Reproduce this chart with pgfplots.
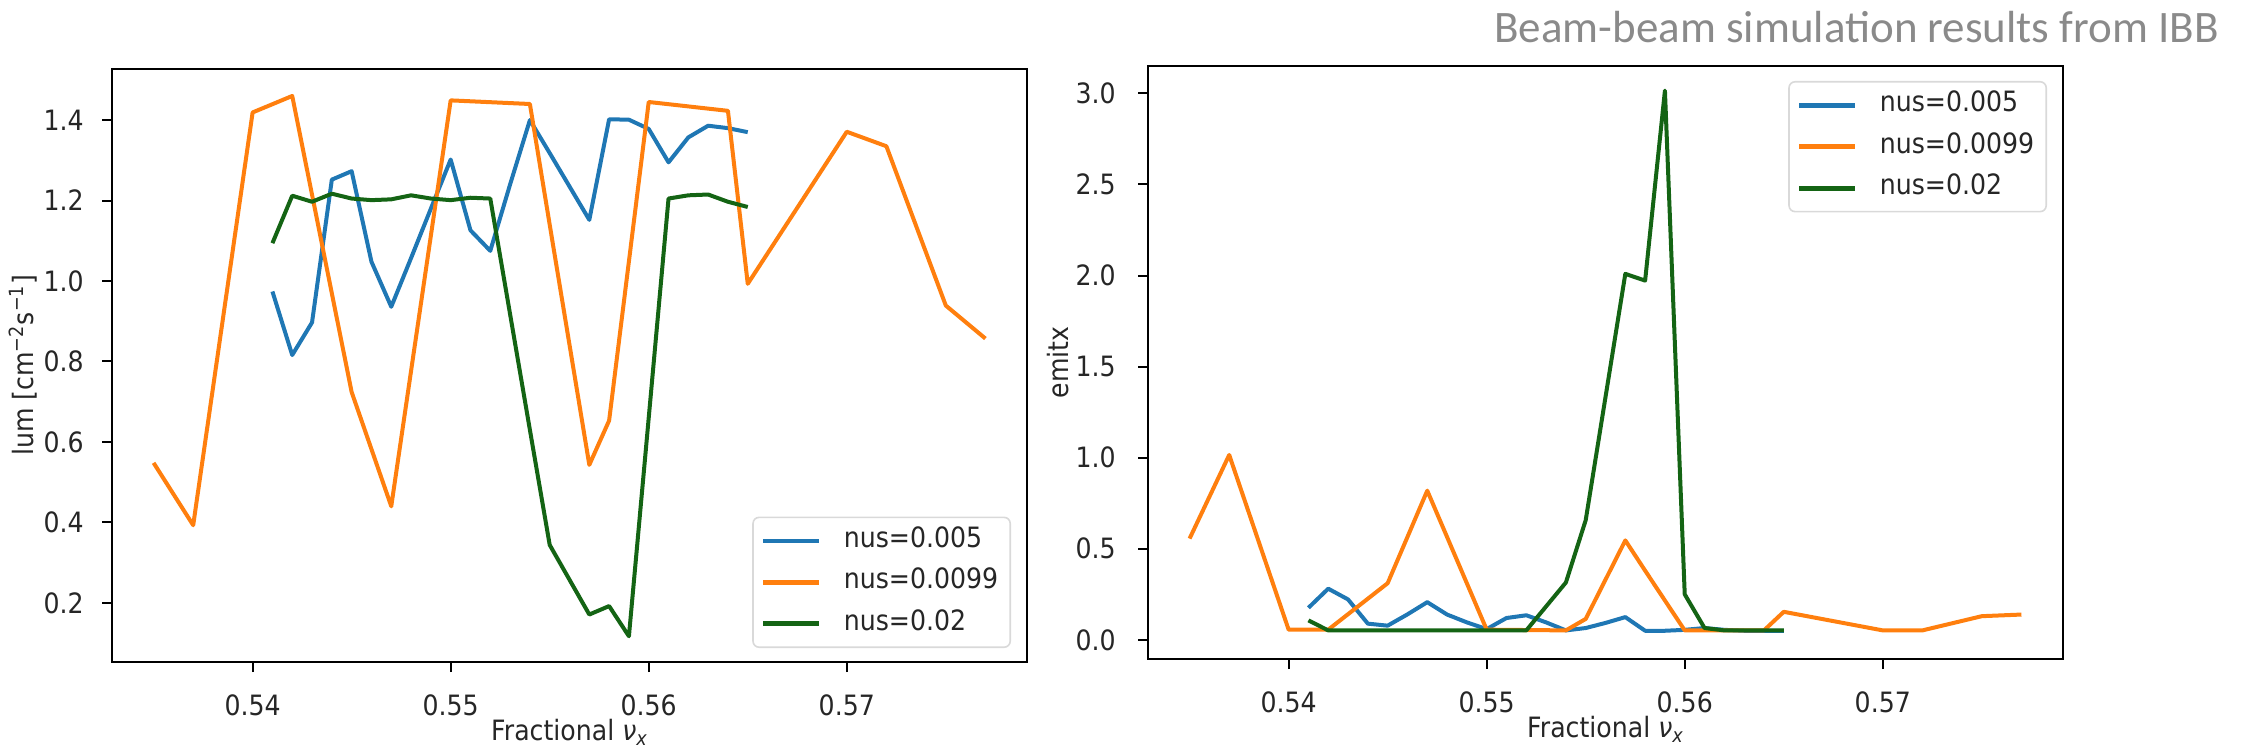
\documentclass[border=0pt]{standalone}
\usepackage{fontspec}
\setmainfont{DejaVu Sans}[FakeStretch=0.9]
\newfontfamily\titlefont{Carlito}
\usepackage{pgfplots}
\pgfplotsset{compat=1.18}
\definecolor{tabblue}{HTML}{1F77B4}
\definecolor{taborange}{HTML}{FF7F0E}
\definecolor{dgreen}{HTML}{146414}
\definecolor{titlegray}{HTML}{8A8A8A}

\pgfplotsset{
  panel/.style={
    scale only axis, width=457.5pt, height=296.5pt,
    xmin=0.5329, xmax=0.5791,
    xtick={0.54,0.55,0.56,0.57}, xticklabels={0.54,0.55,0.56,0.57},
    tick align=outside, xtick pos=bottom, ytick pos=left,
    major tick length=5pt,
    every tick/.style={black, line width=1pt},
    axis line style={black, line width=1.2pt},
    tick label style={text=black!85},
    xticklabel style={anchor=base, inner sep=0pt, yshift=-21.5pt},
    label style={text=black!85},
    xlabel={Fractional {\itshape ν}\textsubscript{\itshape x}},
    xlabel style={at={(axis description cs:0.5,-0.1332)}, anchor=base, inner sep=0pt},
    every axis plot/.append style={line width=2pt, line join=round},
    legend cell align=left,
    legend image code/.code={\draw[#1, line width=2.4pt] (0pt,0pt) -- (28pt,0pt);},
    legend style={draw=black!15, line width=0.8pt, rounded corners=3pt, fill=white,
      inner xsep=4pt, inner ysep=4.5pt, row sep=6.2pt,
      nodes={inner xsep=2pt, inner ysep=1pt, text height=9.5pt, text depth=3pt, text=black!85},
      /tikz/every odd column/.append style={column sep=9pt}},
  }
}

\begin{document}
\begin{tikzpicture}[font=\fontsize{14}{16.8}\selectfont]
\useasboundingbox (0,0) rectangle (1124.5pt,375pt);

% ---------------- left panel: luminosity ----------------
\begin{axis}[panel, at={(56pt,44pt)}, anchor=south west,
  ymin=0.053, ymax=1.527,
  ytick={0.2,0.4,0.6,0.8,1.0,1.2,1.4},
  yticklabels={0.2,0.4,0.6,0.8,1.0,1.2,1.4},
  yticklabel style={anchor=east, inner sep=0pt, xshift=-9pt},
  ylabel={lum [cm\textsuperscript{−2}s\textsuperscript{−1}]},
  ylabel style={at={(axis description cs:-0.0973,0.5)}, anchor=center, inner sep=0pt},
  legend style={at={(0.9825,0.0236)}, anchor=south east},
]
\addplot[tabblue] coordinates {
(0.541,0.974)(0.542,0.816)(0.543,0.897)(0.544,1.252)(0.545,1.273)(0.546,1.048)
(0.547,0.936)(0.548,1.057)(0.549,1.180)(0.550,1.302)(0.551,1.126)(0.552,1.075)
(0.553,1.240)(0.554,1.400)(0.555,1.318)(0.556,1.235)(0.557,1.152)(0.558,1.402)
(0.559,1.401)(0.560,1.378)(0.561,1.295)(0.562,1.357)(0.563,1.386)(0.564,1.380)
(0.565,1.370)};
\addlegendentry{nus=0.005}
\addplot[taborange] coordinates {
(0.535,0.548)(0.537,0.393)(0.540,1.419)(0.542,1.460)(0.545,0.724)(0.547,0.440)
(0.550,1.449)(0.554,1.440)(0.555,1.140)(0.557,0.543)(0.558,0.653)(0.560,1.445)
(0.564,1.423)(0.565,0.993)(0.570,1.371)(0.572,1.335)(0.575,0.939)(0.577,0.857)};
\addlegendentry{nus=0.0099}
\addplot[dgreen] coordinates {
(0.541,1.094)(0.542,1.212)(0.543,1.197)(0.544,1.217)(0.545,1.205)(0.546,1.201)
(0.547,1.203)(0.548,1.213)(0.549,1.205)(0.550,1.201)(0.551,1.207)(0.552,1.205)
(0.554,0.630)(0.555,0.344)(0.557,0.171)(0.558,0.192)(0.559,0.117)(0.560,0.660)
(0.561,1.205)(0.562,1.213)(0.563,1.215)(0.564,1.197)(0.565,1.184)};
\addlegendentry{nus=0.02}
\node[anchor=base west, inner sep=0pt, text=black!85] at (rel axis cs:0,1) [yshift=4pt] {1e35};
\end{axis}

% ---------------- right panel: emittance ----------------
\begin{axis}[panel, at={(574pt,45.5pt)}, anchor=south west,
  ymin=-0.105, ymax=3.15,
  ytick={0,0.5,1,1.5,2,2.5,3},
  yticklabels={0.0,0.5,1.0,1.5,2.0,2.5,3.0},
  yticklabel style={anchor=east, inner sep=0pt, xshift=-11pt},
  ylabel={emitx},
  ylabel style={at={(axis description cs:-0.0984,0.5)}, anchor=center, inner sep=0pt},
  legend style={at={(0.9825,0.9747)}, anchor=north east},
]
\addplot[tabblue] coordinates {
(0.541,0.176)(0.542,0.281)(0.543,0.222)(0.544,0.089)(0.545,0.078)(0.546,0.140)
(0.547,0.207)(0.548,0.139)(0.549,0.096)(0.550,0.059)(0.551,0.120)(0.552,0.135)
(0.553,0.096)(0.554,0.052)(0.555,0.065)(0.556,0.093)(0.557,0.125)(0.558,0.050)
(0.559,0.050)(0.560,0.055)(0.561,0.065)(0.562,0.055)(0.563,0.050)(0.564,0.050)
(0.565,0.050)};
\addlegendentry{nus=0.005}
\addplot[taborange] coordinates {
(0.535,0.556)(0.537,1.015)(0.540,0.056)(0.542,0.056)(0.545,0.311)(0.547,0.819)
(0.550,0.056)(0.554,0.052)(0.555,0.115)(0.557,0.546)(0.558,0.380)(0.560,0.052)
(0.564,0.052)(0.565,0.154)(0.570,0.052)(0.572,0.052)(0.575,0.130)(0.577,0.139)};
\addlegendentry{nus=0.0099}
\addplot[dgreen] coordinates {
(0.541,0.107)(0.542,0.052)(0.543,0.052)(0.544,0.052)(0.545,0.052)(0.546,0.052)
(0.547,0.052)(0.548,0.052)(0.549,0.052)(0.550,0.052)(0.551,0.052)(0.552,0.052)
(0.554,0.315)(0.555,0.657)(0.557,2.009)(0.558,1.972)(0.559,3.015)(0.560,0.250)
(0.561,0.065)(0.562,0.052)(0.563,0.052)(0.564,0.052)(0.565,0.052)};
\addlegendentry{nus=0.02}
\node[anchor=base west, inner sep=0pt, text=black!85] at (rel axis cs:0,1) [yshift=4.5pt] {1e−7};
\end{axis}

\node[anchor=base east, inner sep=0pt, text=titlegray, font=\titlefont\fontsize{22.5}{27}\selectfont]
  at (1109.5pt,353.5pt) {Beam-beam simulation results from IBB};
\end{tikzpicture}
\end{document}
